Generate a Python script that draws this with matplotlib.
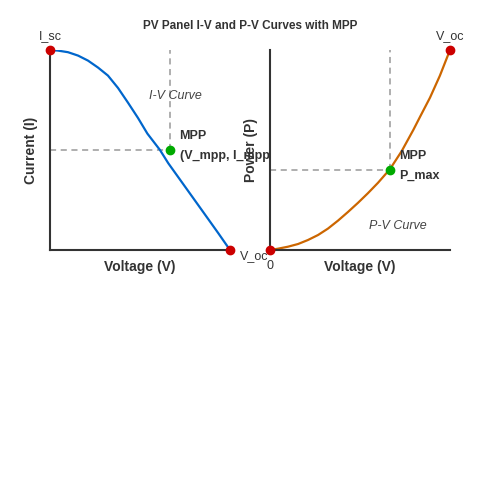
import matplotlib

matplotlib.use("Agg")
import matplotlib.pyplot as plt

plt.rcParams["font.family"] = ["Liberation Sans", "DejaVu Sans"]

# normalised curve samples
iv_v = [0.0, 0.044, 0.1, 0.156, 0.211, 0.267, 0.322, 0.378, 0.433, 0.489, 0.541,
        0.611, 0.657, 0.75, 0.843, 0.935, 1.0]
iv_i = [1.0, 0.997, 0.989, 0.972, 0.947, 0.912, 0.872, 0.81, 0.737, 0.66, 0.582,
        0.5, 0.434, 0.317, 0.2, 0.084, 0.0]
pv_v = [0.0, 0.044, 0.1, 0.156, 0.211, 0.267, 0.322, 0.378, 0.433, 0.489, 0.544,
        0.6, 0.667, 0.732, 0.796, 0.833, 0.889, 0.944, 1.0]
pv_p = [0.0, 0.0065, 0.0165, 0.03, 0.05, 0.075, 0.107, 0.147, 0.19, 0.236, 0.284,
        0.336, 0.405, 0.495, 0.6, 0.665, 0.762, 0.872, 1.0]

v_mpp, i_mpp, p_max = 0.667, 0.5, 0.4

TXT = "#333333"
BLUE = "#0066cc"
ORANGE = "#cc6600"
RED = "#cc0000"
GREEN = "#00aa00"
DASH = "#999999"

fig = plt.figure(figsize=(5, 5), dpi=100)
ax1 = fig.add_axes([0.10, 0.50, 0.36, 0.40])
ax2 = fig.add_axes([0.54, 0.50, 0.36, 0.40])

for ax in (ax1, ax2):
    ax.set_xlim(0, 1)
    ax.set_ylim(0, 1)
    ax.set_xticks([])
    ax.set_yticks([])
    for s in ("top", "right"):
        ax.spines[s].set_visible(False)
    for s in ("left", "bottom"):
        ax.spines[s].set_color(TXT)
        ax.spines[s].set_linewidth(1.5)
    ax.set_xlabel("Voltage (V)", fontsize=10, fontweight="bold", color=TXT, labelpad=7)

# I-V panel
ax1.plot([0, v_mpp], [i_mpp, i_mpp], color=DASH, lw=1.1, dashes=(4, 3))
ax1.plot([v_mpp, v_mpp], [i_mpp, 1], color=DASH, lw=1.1, dashes=(4, 3))
ax1.plot(iv_v, iv_i, color=BLUE, lw=1.6, solid_joinstyle="round")
ax1.scatter([0, 1], [1, 0], s=36, color=RED, zorder=5, clip_on=False)
ax1.scatter([v_mpp], [i_mpp], s=36, color=GREEN, zorder=5)
ax1.set_ylabel("Current (I)", fontsize=10, fontweight="bold", color=TXT, labelpad=9)
ax1.text(0, 1.04, "I_sc", ha="center", va="bottom", fontsize=9, color=TXT, clip_on=False)
ax1.text(1.055, -0.03, "V_oc", ha="left", va="center", fontsize=9, color=TXT, clip_on=False)
ax1.text(0.72, 0.57, "MPP", ha="left", va="center", fontsize=9, fontweight="bold", color=TXT)
ax1.text(0.72, 0.47, "(V_mpp, I_mpp)", ha="left", va="center", fontsize=9,
         fontweight="bold", color=TXT, clip_on=False)
ax1.text(0.695, 0.77, "I-V Curve", ha="center", va="center", fontsize=9,
         style="italic", color="#444444")

# P-V panel
ax2.plot([0, v_mpp], [p_max, p_max], color=DASH, lw=1.1, dashes=(4, 3))
ax2.plot([v_mpp, v_mpp], [p_max, 1], color=DASH, lw=1.1, dashes=(4, 3))
ax2.plot(pv_v, pv_p, color=ORANGE, lw=1.6, solid_joinstyle="round")
ax2.scatter([0, 1], [0, 1], s=36, color=RED, zorder=5, clip_on=False)
ax2.scatter([v_mpp], [p_max], s=36, color=GREEN, zorder=5)
ax2.set_ylabel("Power (P)", fontsize=10, fontweight="bold", color=TXT, labelpad=9)
ax2.text(0, -0.08, "0", ha="center", va="center", fontsize=9, color=TXT, clip_on=False)
ax2.text(1.0, 1.04, "V_oc", ha="center", va="bottom", fontsize=9, color=TXT, clip_on=False)
ax2.text(0.72, 0.47, "MPP", ha="left", va="center", fontsize=9, fontweight="bold", color=TXT)
ax2.text(0.72, 0.37, "P_max", ha="left", va="center", fontsize=9, fontweight="bold", color=TXT)
ax2.text(0.71, 0.12, "P-V Curve", ha="center", va="center", fontsize=9,
         style="italic", color="#444444")

fig.text(0.5, 0.948, "PV Panel I-V and P-V Curves with MPP", ha="center", va="center",
         fontsize=8.5, fontweight="bold", color=TXT)

fig.savefig("out.png", dpi=100)
